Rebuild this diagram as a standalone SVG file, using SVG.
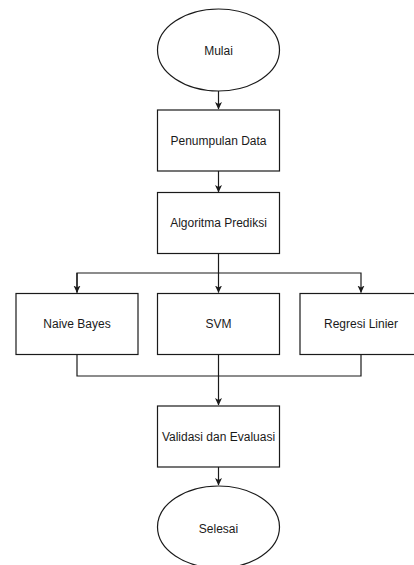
<svg xmlns="http://www.w3.org/2000/svg" width="414" height="565" viewBox="0 0 414 565">
<defs>
<style>
.n{fill:#fff;stroke:#1a1a1a;stroke-width:1.2}
.t{font-family:"Liberation Sans",Arial,sans-serif;font-size:12px;fill:#1a1a1a;text-anchor:middle;dominant-baseline:central}
.c{fill:none;stroke:#1a1a1a;stroke-width:1.2}
</style>
<marker id="a" markerWidth="8" markerHeight="8" refX="7" refY="4" orient="auto" markerUnits="userSpaceOnUse">
<path d="M0,0.5 L7.5,4 L0,7.5 L2,4 Z" fill="#1a1a1a"/>
</marker>
</defs>
<rect width="414" height="565" fill="#fff"/>
<g id="connectors">
<path class="c" d="M218.5,91 V109" marker-end="url(#a)"/>
<path class="c" d="M218.5,171 V192" marker-end="url(#a)"/>
<path class="c" d="M218.5,253.5 V292.5" marker-end="url(#a)"/>
<path class="c" d="M77,292.5 V273 H361 V292.5" marker-end="url(#a)"/>
<path class="c" d="M77,273 V292.5" marker-end="url(#a)"/>
<path class="c" d="M77,354.5 V376 H361 V354.5"/>
<path class="c" d="M218.5,354.5 V405" marker-end="url(#a)"/>
<path class="c" d="M218.5,467 V485" marker-end="url(#a)"/>
</g>
<g id="mulai">
<ellipse class="n" cx="218.5" cy="50" rx="61" ry="41"/>
<text class="t" x="218.5" y="51">Mulai</text>
</g>
<g id="penumpulan">
<rect class="n" x="157.5" y="110" width="122" height="61"/>
<text class="t" x="218.5" y="141">Penumpulan Data</text>
</g>
<g id="algoritma">
<rect class="n" x="157.5" y="192.5" width="122" height="61"/>
<text class="t" x="218.5" y="223">Algoritma Prediksi</text>
</g>
<g id="naive">
<rect class="n" x="16" y="293.5" width="122" height="61"/>
<text class="t" x="77" y="324">Naive Bayes</text>
</g>
<g id="svm">
<rect class="n" x="157.5" y="293.5" width="122" height="61"/>
<text class="t" x="218.5" y="324">SVM</text>
</g>
<g id="regresi">
<rect class="n" x="300" y="293.5" width="122" height="61"/>
<text class="t" x="361" y="324">Regresi Linier</text>
</g>
<g id="validasi">
<rect class="n" x="157.5" y="406" width="122" height="61"/>
<text class="t" x="218.5" y="437">Validasi dan Evaluasi</text>
</g>
<g id="selesai">
<ellipse class="n" cx="218.5" cy="527" rx="61" ry="41"/>
<text class="t" x="218.5" y="529">Selesai</text>
</g>
</svg>
